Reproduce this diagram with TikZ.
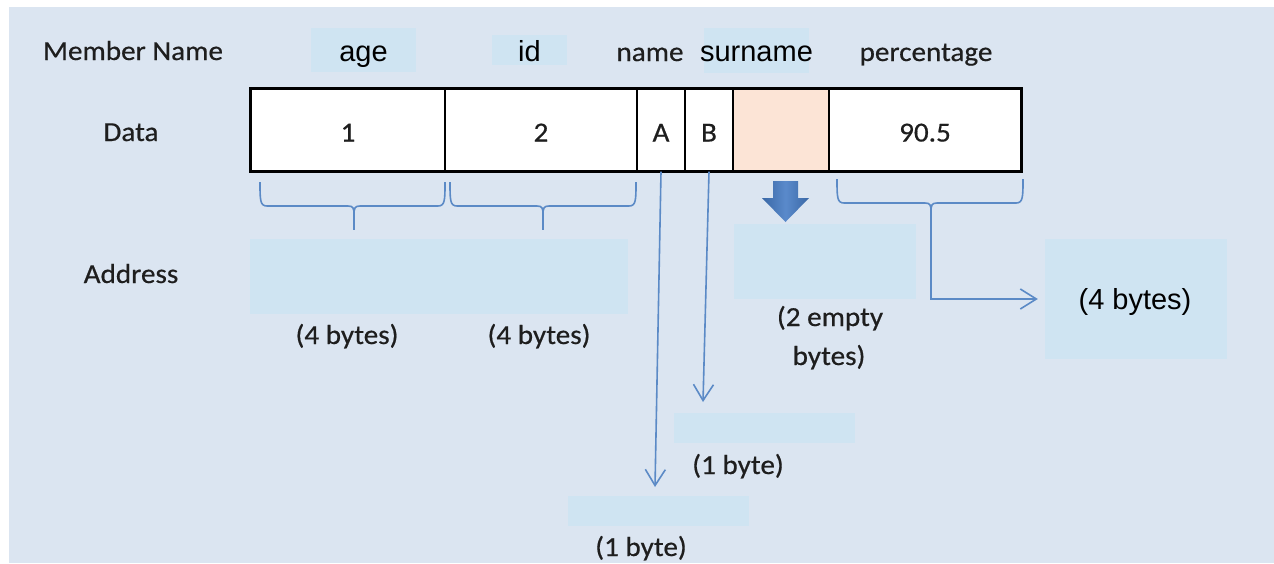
\documentclass[tikz,border=0pt]{standalone}
\usepackage{fontspec}
\setmainfont{Carlito}[FakeStretch=1.06,FakeBold=0.5]
\newfontfamily\arialf{Liberation Sans}
\usetikzlibrary{arrows.meta}
\definecolor{bg}{HTML}{DBE5F1}
\definecolor{hl}{HTML}{CFE4F2}
\definecolor{peach}{HTML}{FCE4D6}
\definecolor{lblue}{HTML}{5B8AC6}
\definecolor{darrow}{HTML}{3A68A6}
\definecolor{larrow}{HTML}{5A8ACB}
\definecolor{txt}{HTML}{1E1E1E}
\newcommand{\bracedraw}[4]{%
  \draw[bracel] (#1,#4-24) .. controls (#1,#4-6) and (#1,#4) .. (#1+7,#4) -- (#2-6,#4) .. controls (#2-1,#4) and (#2,#4+2) .. (#2,#4+8);
  \draw[bracel] (#3,#4-24) .. controls (#3,#4-6) and (#3,#4) .. (#3-7,#4) -- (#2+6,#4) .. controls (#2+1,#4) and (#2,#4+2) .. (#2,#4+8);
}
\begin{document}
\begin{tikzpicture}[x=1pt,y=-1pt,
  lab/.style={font=\fontsize{27.5}{30}\selectfont, text=txt, inner sep=0pt, anchor=base},
  alab/.style={font=\arialf\fontsize{29}{31}\selectfont, text=black, inner sep=0pt, anchor=base},
  hlbox/.style={fill=hl, draw=none, inner sep=0pt},
  cell/.style={draw=black, line width=1.4pt, fill=white, minimum height=82pt, inner sep=0pt,
    text height=25pt, text depth=2pt, text=txt, font=\fontsize{27.5}{30}\selectfont},
  conn/.style={draw=lblue, line width=1.6pt, -{Straight Barb[length=16pt,width=20pt]}},
  bracel/.style={draw=lblue, line width=1.6pt}]
\useasboundingbox (0,0) rectangle (1274,563);
\fill[white] (0,0) rectangle (1274,563);
\fill[bg] (9,7) rectangle (1274,563);

% highlight boxes
\node[hlbox, minimum width=105pt, minimum height=44pt] (agebox) at (363.5,50) {};
\node[hlbox, minimum width=75pt, minimum height=30pt] (idbox) at (529.5,50) {};
\node[hlbox, minimum width=105pt, minimum height=45pt] (surbox) at (756.5,50.5) {};
\node[hlbox, minimum width=378pt, minimum height=75pt] (addrbox) at (439,276.5) {};
\node[hlbox, minimum width=182pt, minimum height=75pt] (emptybox) at (825,261.5) {};
\node[hlbox, minimum width=181pt, minimum height=30pt] (b1box) at (764.5,428) {};
\node[hlbox, minimum width=181pt, minimum height=30pt] (a1box) at (658.5,511) {};
\node[hlbox, minimum width=182pt, minimum height=120pt] (r4) at (1136,299) {};

% member names
\node[lab] (mn) at (133,60) {Member Name};
\node[alab] (age) at (363.5,61) {age};
\node[alab] (id) at (529.5,61) {id};
\node[lab] (name) at (650,61) {name};
\node[alab] (sur) at (756.5,61) {surname};
\node[lab] (pct) at (926,61) {percentage};

% data row
\node[lab] (data) at (131,141) {Data};
\node[cell, minimum width=194pt] (c1) at (348,130) {1};
\node[cell, minimum width=192pt] (c2) at (541,130) {2};
\node[cell, minimum width=48pt] (cA) at (661,130) {A};
\node[cell, minimum width=48pt] (cB) at (709,130) {B};
\node[cell, minimum width=96pt, fill=peach] (cE) at (781,130) {};
\node[cell, minimum width=192pt] (cP) at (925,130) {90.5};
\draw[line width=3.5pt, line join=miter] (c1.north west) rectangle (cP.south east);

% braces
\bracedraw{260}{354}{445}{206}
\draw[bracel] (354,214) -- (354,230);
\bracedraw{450}{543}{636}{206}
\draw[bracel] (543,214) -- (543,230);
\bracedraw{837}{931}{1023}{203}
\coordinate (b3) at (931,211);
\draw[conn] (b3) |- ([xshift=-7pt]r4.west);

% block arrow
\shade[left color=darrow, right color=darrow, middle color=larrow]
  (773,181) -- (798,181) -- (798,198) -- (809,198) -- (785.5,222) -- (762,198) -- (773,198) -- cycle;

% arrows from A and B
\coordinate (aend) at (655,487);
\coordinate (bend) at (703,402);
\draw[conn] (cA.south) -- (aend);
\draw[conn] (cB.south) -- (bend);

% address labels
\node[lab] (addr) at (131,283) {Address};
\node[lab] (l4a) at (347,344) {(4 bytes)};
\node[lab] (l4b) at (539,344) {(4 bytes)};
\node[lab] (l2a) at (830,326) {(2 empty};
\node[lab] (l2b) at (829,365) {bytes)};
\node[lab] (l1a) at (738,474) {(1 byte)};
\node[lab] (l1b) at (641,556) {(1 byte)};
\node[alab] (r4t) at (1135,309) {(4 bytes)};
\end{tikzpicture}
\end{document}
